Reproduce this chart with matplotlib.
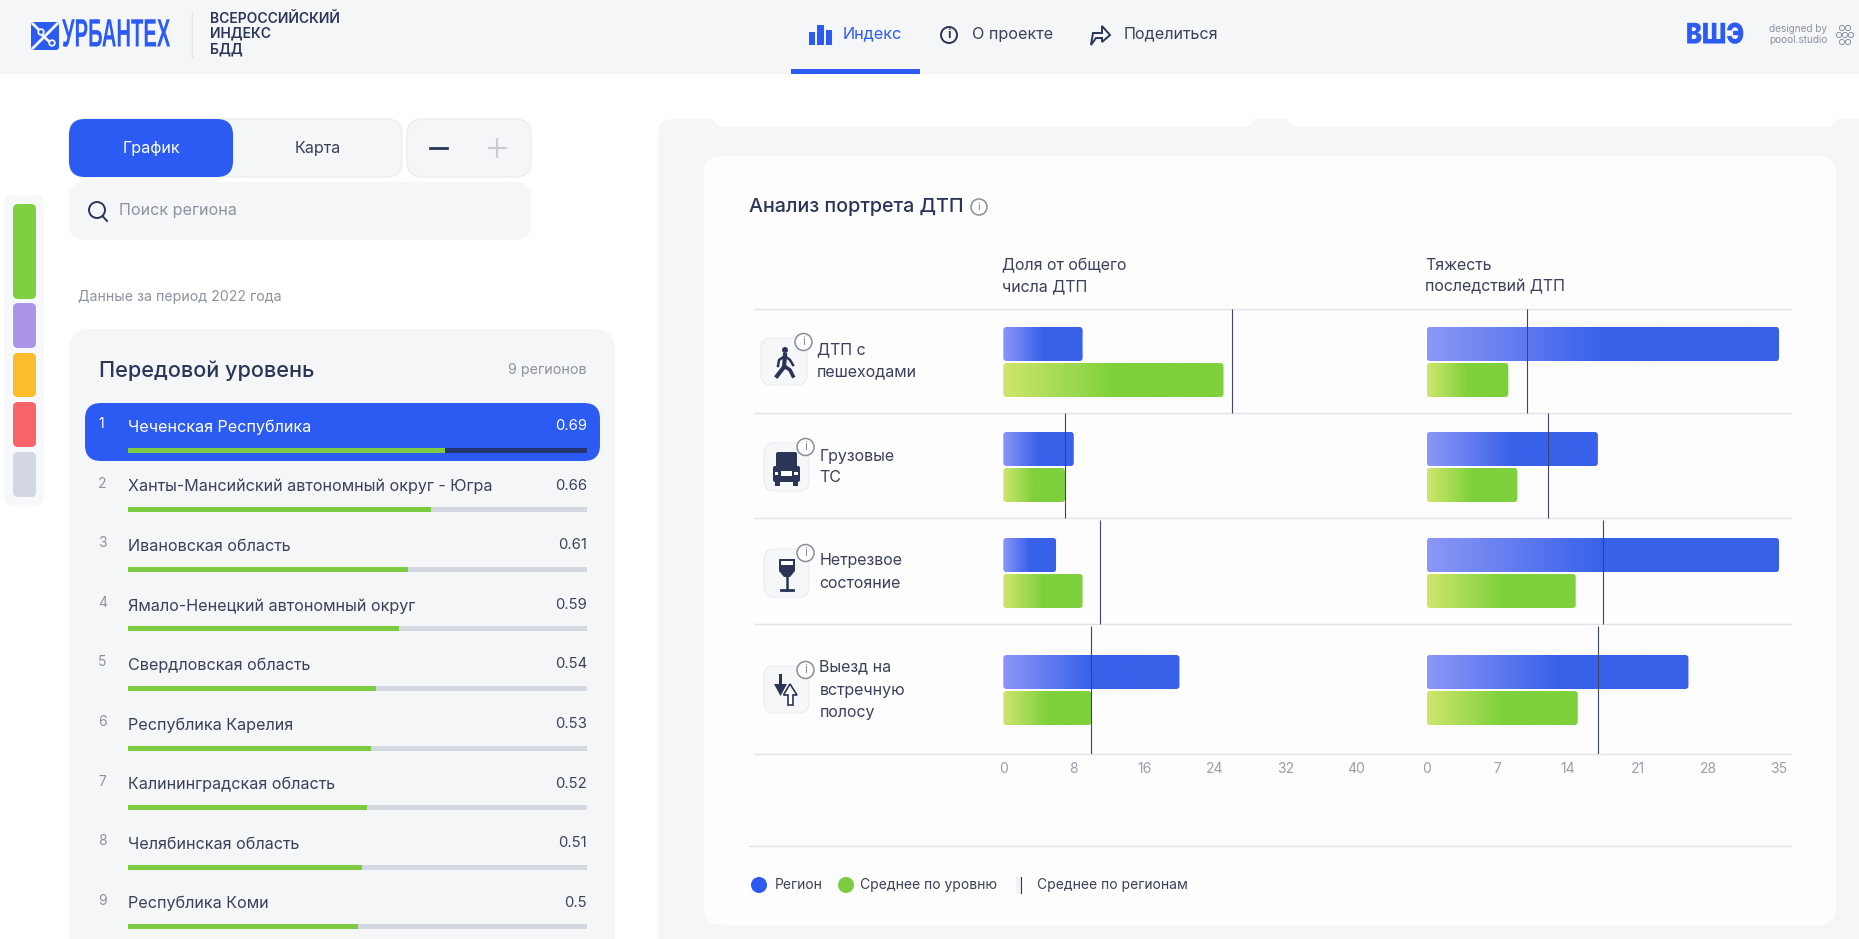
import numpy as np
import matplotlib
matplotlib.use('Agg')
import matplotlib.pyplot as plt
from matplotlib.colors import LinearSegmentedColormap
from matplotlib.patches import Circle, FancyBboxPatch, Polygon, Rectangle
from matplotlib.patheffects import AbstractPathEffect
from matplotlib.transforms import Affine2D

W, H = 1859, 939

regions = [
    'Чеченская Республика',
    'Ханты-Мансийский автономный округ - Югра',
    'Ивановская область',
    'Ямало-Ненецкий автономный округ',
    'Свердловская область',
    'Республика Карелия',
    'Калининградская область',
    'Челябинская область',
    'Республика Коми',
]
region_scores = [0.69, 0.66, 0.61, 0.59, 0.54, 0.53, 0.52, 0.51, 0.5]

row_labels = ['ДТП с\nпешеходами', 'Грузовые\nТС', 'Нетрезвое\nсостояние', 'Выезд на\nвстречную\nполосу']

share_region = [9, 8, 6, 20]
share_level = [25, 7, 9, 10]
share_mean = [26, 7, 11, 10]
share_ticks = [0, 8, 16, 24, 32, 40]

severity_region = [35, 17, 35, 26]
severity_level = [8.1, 9, 14.8, 15]
severity_mean = [10, 12, 17.5, 17]
severity_ticks = [0, 7, 14, 21, 28, 35]

level_colors = ['#7ED03E', '#AC95E8', '#FBBD2C', '#F8636A', '#D3D8E3']

BLUE = '#2B5BF2'
GREEN = '#7CCB42'
NAVY = '#2A3557'
TEXT = '#3A4158'
GREY_TEXT = '#8D92A0'
PANEL = '#F5F6F8'
LINE = '#E1E3E8'

plt.rcParams['font.family'] = ['Inter', 'Noto Sans', 'DejaVu Sans']

fig = plt.figure(figsize=(W / 100, H / 100), dpi=100, facecolor='white')


class Stretch(AbstractPathEffect):
    # rescales a text around the pixel point (x0, y0), y counted from the top
    def __init__(self, sx, sy, x0, y0):
        super().__init__()
        self.sx = sx
        self.sy = sy
        self.x0 = x0
        self.y0 = H - y0

    def draw_path(self, renderer, gc, tpath, affine, rgbFace=None):
        scaled = affine + Affine2D().translate(-self.x0, -self.y0).scale(self.sx, self.sy).translate(self.x0, self.y0)
        renderer.draw_path(gc, tpath, scaled, rgbFace)


def px_axes(x0, y0, x1, y1, zorder):
    a = fig.add_axes([x0 / W, 1 - y1 / H, (x1 - x0) / W, (y1 - y0) / H], zorder=zorder)
    a.patch.set_alpha(0)
    return a


ui = px_axes(0, 0, W, H, 0)
ui.set_xlim(0, W)
ui.set_ylim(H, 0)
ui.axis('off')


def box(x0, y0, x1, y1, r, fc, ec='none', lw=1, z=1):
    p = FancyBboxPatch((x0, y0), x1 - x0, y1 - y0, boxstyle=f'round,pad=0,rounding_size={r}',
                       fc=fc, ec=ec, lw=lw, zorder=z)
    ui.add_patch(p)
    return p


def label(x, y, s, size=11.6, color=TEXT, ha='left', va='center', weight='normal', **kw):
    return ui.text(x, y + 1, s, fontsize=size, color=color, ha=ha, va=va, fontweight=weight, zorder=6, **kw)


def info(x, y, r=8.5, size=8.5, color='#8A8E9A'):
    ui.add_patch(Circle((x, y), r, fc='white', ec=color, lw=1.1, zorder=5))
    ui.text(x, y, 'i', fontsize=size, color=color, ha='center', va='center', zorder=6)


# header
ui.add_patch(Rectangle((0, 0), W, 74, fc=PANEL, ec='none', zorder=3))
ui.add_patch(Rectangle((791, 69), 129, 5, fc=BLUE, ec='none', zorder=4))
ui.plot([192, 192], [13, 57], color='#E3E5EA', lw=1, zorder=4)

# logo mark
box(31, 22, 59, 50, 3, BLUE, z=4)
ui.plot([33, 57], [48, 24], color=PANEL, lw=2, zorder=5)
ui.plot([33, 42], [24, 33], color=PANEL, lw=2, zorder=5)
ui.plot([43, 52], [36, 44], color=PANEL, lw=2, zorder=5)
ui.add_patch(Circle((41, 32), 2.8, fc=BLUE, ec=PANEL, lw=1.3, zorder=5))
ui.add_patch(Circle((52, 43), 2.8, fc=BLUE, ec=PANEL, lw=1.3, zorder=5))
logo = label(62, 35, 'УРБАНТЕХ', size=19, color=BLUE, weight='bold', family=['Liberation Sans'])
logo.set_path_effects([Stretch(0.766, 1.5, 62, 36)])
for y, s in zip([18, 33, 48], ['ВСЕРОССИЙСКИЙ', 'ИНДЕКС', 'БДД']):
    label(210, y, s, size=10, color=NAVY, weight='semibold')

for x0, h in zip([809, 817.5, 826], [13, 20, 15]):
    ui.add_patch(Rectangle((x0, 45 - h), 6.5, h, fc=BLUE, ec='none', zorder=5))
label(843, 33, 'Индекс', color=BLUE)
ui.add_patch(Circle((949, 35), 8, fc='none', ec=NAVY, lw=1.4, zorder=5))
label(949, 34, 'i', size=9, color=NAVY, ha='center', weight='bold')
label(972, 33, 'О проекте')
ui.add_patch(Polygon([(1091, 45), (1093, 33), (1102, 33), (1102, 26), (1110, 35), (1102, 42), (1102, 38), (1096, 38)],
                     closed=True, fc='none', ec=NAVY, lw=1.4, zorder=5))
label(1124, 33, 'Поделиться')
vshe = label(1686, 35, 'ВШЭ', size=20.5, color=BLUE, weight='black')
vshe.set_path_effects([Stretch(0.84, 1, 1686, 36)])
label(1769, 28, 'designed by', size=7.2, color=GREY_TEXT)
label(1769, 39, 'poool.studio', size=7.2, color=GREY_TEXT)
for cx, cy in [(1842, 28), (1848, 28), (1839, 35), (1845, 35), (1851, 35), (1842, 42), (1848, 42)]:
    ui.add_patch(Circle((cx, cy), 2.6, fc='none', ec=GREY_TEXT, lw=0.7, zorder=5))

# left controls
box(69, 119, 402, 177, 16, PANEL, ec='#ECEDF1', z=1)
box(69, 119, 233, 177, 16, BLUE, z=2)
label(151, 147.5, 'График', color='white', ha='center')
label(318, 147.5, 'Карта', ha='center')
box(407, 119, 531, 177, 16, PANEL, ec='#ECEDF1', z=1)
ui.plot([430, 447], [148, 148], color=NAVY, lw=2, zorder=3)
ui.plot([489, 506], [148, 148], color='#C9CCD5', lw=1.5, zorder=3)
ui.plot([497.5, 497.5], [139, 157], color='#C9CCD5', lw=1.5, zorder=3)
box(69, 182, 531, 240, 16, PANEL)
ui.add_patch(Circle((97, 210), 8, fc='none', ec=NAVY, lw=1.4, zorder=3))
ui.plot([102.5, 107], [216, 221], color=NAVY, lw=1.4, zorder=3)
label(119, 210, 'Поиск региона', color=GREY_TEXT)
label(78, 296.5, 'Данные за период 2022 года', size=10.2, color=GREY_TEXT)

# level strip
box(4, 195, 44, 505, 8, '#F7F8FA')
for (y0, y1), c in zip([(204, 299), (303, 348), (353, 397), (402, 447), (452, 497)], level_colors):
    box(13, y0, 36, y1, 5, c, z=2)

# list panel
box(69, 329, 615, 990, 22, PANEL)
label(99, 370, 'Передовой уровень', size=15.6, color=NAVY, weight='medium')
label(587, 369, '9 регионов', size=10.3, color=GREY_TEXT, ha='right')
box(85, 403, 600, 461, 16, BLUE, z=2)

list_ax = px_axes(128, 403, 587, H, 4)
list_ax.set_xlim(0, 1)
list_ax.set_ylim(H, 403)
list_ax.axis('off')
for i, (name, score) in enumerate(zip(regions, region_scores)):
    name_y = 426 + i * 59.6
    bar_y = 450 + i * 59.6
    on = i == 0
    list_ax.barh(bar_y, 1, height=5, color='#24356F' if on else '#D3D8E0')
    list_ax.barh(bar_y, score, height=5, color=GREEN)
    label(98, name_y - 3, str(i + 1), size=10, color='white' if on else GREY_TEXT)
    label(128, name_y, name, color='white' if on else TEXT)
    label(587, name_y - 1, f'{score:g}', size=10.7, color='white' if on else TEXT, ha='right')

# right side panels
box(658, 119, W + 30, H + 30, 14, PANEL, z=1)
box(712, 90, 1255, 127, 14, 'white', z=2)
box(1287, 90, 1838, 127, 14, 'white', z=2)
box(704, 156, 1836, 925, 18, '#FDFDFE', z=2)

label(749, 206, 'Анализ портрета ДТП', size=14.2, color=NAVY, weight='medium')
info(979, 207, r=8, size=8)
label(1002, 265, 'Доля от общего', size=11.5)
label(1002, 286, 'числа ДТП', size=11.5)
label(1425, 265, 'Тяжесть', size=11.5)
label(1425, 286, 'последствий ДТП', size=11.5)

row_lines = [309, 413, 518, 624, 754]
for y in row_lines:
    ui.plot([755, 1791], [y, y], color=LINE, lw=1, zorder=3)
ui.plot([749, 1791], [846, 846], color=LINE, lw=1, zorder=3)

# row names and icon tiles
icon_boxes = [(761, 338, 807, 385), (764, 443, 809, 491), (764, 549, 809, 597), (764, 666, 809, 713)]
label_x = [817, 819.5, 819.5, 819.5]
label_y = [[349, 371], [455, 476], [560, 583], [666, 689, 711]]
for name, b, x, ys in zip(row_labels, icon_boxes, label_x, label_y):
    box(*b, 10, '#F6F7F9', ec='#EEEFF3', z=3)
    info(b[2] - 3.5, b[1] + 4, r=8.5, size=8.5)
    for y, s in zip(ys, name.split('\n')):
        label(x, y, s, size=11.5)

# pedestrian
ui.add_patch(Circle((785, 350), 3, fc=NAVY, ec='none', zorder=4))
ui.plot([785, 784, 777], [355, 367, 376], color=NAVY, lw=3, zorder=4)
ui.plot([784, 790, 793], [366, 370, 376], color=NAVY, lw=2.6, zorder=4)
ui.plot([785, 779, 778], [356, 360, 366], color=NAVY, lw=1.8, zorder=4)
ui.plot([785, 790, 793], [356, 360, 365], color=NAVY, lw=1.8, zorder=4)
# truck
box(776, 452, 797, 472, 2, NAVY, z=4)
box(773, 466, 800, 482, 2, NAVY, z=4)
ui.add_patch(Rectangle((781, 471), 11, 5, fc='white', ec='none', zorder=5))
ui.add_patch(Rectangle((775, 472), 3.5, 3, fc='white', ec='none', zorder=5))
ui.add_patch(Rectangle((794.5, 472), 3.5, 3, fc='white', ec='none', zorder=5))
ui.add_patch(Rectangle((775, 481), 5, 5, fc=NAVY, ec='none', zorder=4))
ui.add_patch(Rectangle((793, 481), 5, 5, fc=NAVY, ec='none', zorder=4))
# wine glass
ui.add_patch(Polygon([(779, 559), (795, 559), (795, 571), (790, 577), (784, 577), (779, 571)], closed=True,
                     fc=NAVY, ec='none', zorder=4))
ui.add_patch(Rectangle((781, 561), 12, 3.5, fc='white', ec='none', zorder=5))
ui.plot([787, 787], [577, 590], color=NAVY, lw=1.8, zorder=4)
ui.plot([781, 793], [590, 590], color=NAVY, lw=2, zorder=4)
# opposite lane arrows
ui.add_patch(Polygon([(779, 674), (782, 674), (782, 684), (787, 684), (780.5, 696), (774, 684), (779, 684)], closed=True,
                     fc=NAVY, ec='none', zorder=4))
ui.add_patch(Polygon([(790, 684), (797, 695), (793, 695), (793, 705), (788, 705), (788, 695), (783.5, 695)],
                     closed=True, fc='white', ec=NAVY, lw=1.2, zorder=4))

row_centers = [362, 467, 573, 690]
row_tops = [309, 413, 520, 626]
row_bottoms = [413, 518, 624, 754]


def gradient_bars(ax, values, offset, start, end, px_per_unit):
    cmap = LinearSegmentedColormap.from_list('g', [(0, start), (0.5, end), (1, end)])
    grad = np.linspace(0, 1, 256).reshape(1, -1)
    rows = np.array(row_centers) + offset
    bars = ax.barh(rows, values, height=34, color='none')
    for bar in bars:
        x0, y0, w, h = bar.get_x(), bar.get_y(), bar.get_width(), bar.get_height()
        im = ax.imshow(grad, cmap=cmap, vmin=0, vmax=1, extent=(x0, x0 + w, y0 + h, y0), aspect='auto', zorder=2)
        clip = FancyBboxPatch((x0, y0), w, h, boxstyle=f'round,pad=0,rounding_size={3 / px_per_unit}',
                              mutation_aspect=px_per_unit, transform=ax.transData, fc='none', ec='none')
        ax.add_patch(clip)
        im.set_clip_path(clip)


def chart(x0, x1, ticks, region, level, mean):
    ax = px_axes(x0, row_lines[0], x1, row_lines[-1], 4)
    ax.set_ylim(row_lines[-1], row_lines[0])
    ax.set_xlim(0, ticks[-1])
    per = (x1 - x0) / ticks[-1]
    gradient_bars(ax, region, -18, '#8C97F6', '#3861EA', per)
    gradient_bars(ax, level, 18, '#CFE66C', '#7ED13C', per)
    ax.vlines(mean, row_tops, row_bottoms, color='#3C4668', lw=0.8, zorder=3)
    ax.set_xlim(0, ticks[-1])
    ax.set_ylim(row_lines[-1], row_lines[0])
    ax.set_yticks([])
    ax.set_xticks(ticks)
    ax.tick_params(axis='x', length=0, pad=6, labelsize=10, labelcolor='#9A9EAB')
    for s in ax.spines.values():
        s.set_visible(False)
    return ax


chart(1003.3, 1355.6, share_ticks, share_region, share_level, share_mean)
chart(1426.8, 1779, severity_ticks, severity_region, severity_level, severity_mean)

# legend
ui.add_patch(Circle((759, 885), 8, fc=BLUE, ec='none', zorder=4))
ui.add_patch(Circle((846, 885), 8, fc=GREEN, ec='none', zorder=4))
ui.add_patch(Rectangle((1016, 877), 5, 16, fc='#F1F2F5', ec='none', zorder=3))
ui.plot([1021.5, 1021.5], [877, 893], color=NAVY, lw=0.8, zorder=4)
label(774.5, 884, 'Регион', size=10)
label(860, 884, 'Среднее по уровню', size=10)
label(1037, 884, 'Среднее по регионам', size=10)

fig.savefig('out.png', dpi=100, facecolor='white')
